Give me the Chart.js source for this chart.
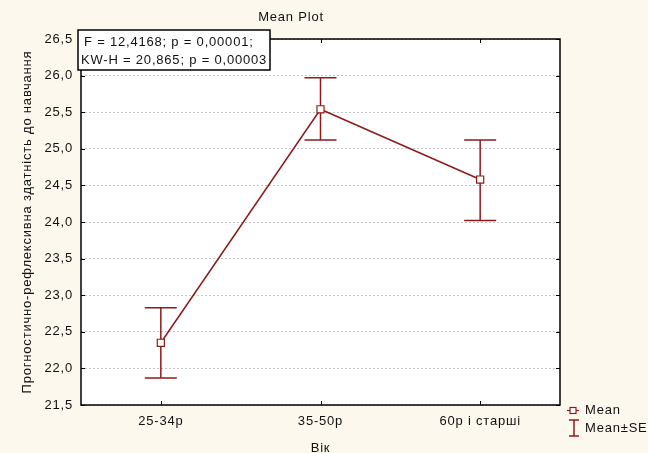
<!DOCTYPE html>
<html><head><meta charset="utf-8">
<script src="https://cdn.jsdelivr.net/npm/chart.js@4/dist/chart.umd.min.js"></script>
<style>html,body{margin:0;padding:0;background:#fdf8ee;}#wrap{width:648px;height:453px;}</style>
</head><body><div id="wrap"><canvas id="c" width="648" height="453"></canvas></div>
<script>
const categories = ["25-34р", "35-50р", "60р і старші"];
const meanValues = [22.35, 25.54, 24.58];
const seUpper = [22.83, 25.97, 25.12];
const seLower = [21.87, 25.12, 24.02];
const yTicks = [21.5, 22.0, 22.5, 23.0, 23.5, 24.0, 24.5, 25.0, 25.5, 26.0, 26.5];
const statLines = ["F = 12,4168; p = 0,00001;", "KW-H = 20,865; p = 0,00003"];
const RED = "#8e1b1b";
const FONT = "'Liberation Sans', Arial, sans-serif";
const FS = 13;
const LS = '0.8px';

const custom = {
  id: 'custom',
  beforeDraw(chart) {
    const {ctx, chartArea: a} = chart;
    ctx.letterSpacing = LS;
    ctx.save();
    ctx.fillStyle = '#fdf8ee';
    ctx.fillRect(0, 0, chart.width, chart.height);
    ctx.fillStyle = '#ffffff';
    ctx.fillRect(a.left, a.top, a.right - a.left, a.bottom - a.top);
    ctx.restore();
  },
  beforeDatasetsDraw(chart) {
    const {ctx} = chart;
    const xs = chart.scales.x, ys = chart.scales.y;
    ctx.save();
    ctx.strokeStyle = RED; ctx.lineWidth = 1.5;
    categories.forEach((c, i) => {
      const x = xs.getPixelForValue(i);
      const yu = ys.getPixelForValue(seUpper[i]);
      const yl = ys.getPixelForValue(seLower[i]);
      ctx.beginPath();
      ctx.moveTo(x, yu); ctx.lineTo(x, yl);
      ctx.moveTo(x - 16, yu); ctx.lineTo(x + 16, yu);
      ctx.moveTo(x - 16, yl); ctx.lineTo(x + 16, yl);
      ctx.stroke();
    });
    ctx.restore();
  },
  afterDraw(chart) {
    const {ctx, chartArea: a} = chart;
    const xs = chart.scales.x, ys = chart.scales.y;
    ctx.save();
    ctx.letterSpacing = LS;
    ctx.strokeStyle = '#000'; ctx.lineWidth = 1.5;
    ctx.strokeRect(a.left, a.top, a.right - a.left, a.bottom - a.top);
    ctx.lineWidth = 1;
    ctx.beginPath();
    yTicks.forEach(v => {
      const y = Math.round(ys.getPixelForValue(v)) + 0.5;
      ctx.moveTo(a.left, y); ctx.lineTo(a.left + 4, y);
      ctx.moveTo(a.right, y); ctx.lineTo(a.right - 4, y);
    });
    categories.forEach((c, i) => {
      const x = Math.round(xs.getPixelForValue(i)) + 0.5;
      ctx.moveTo(x, a.bottom); ctx.lineTo(x, a.bottom - 4);
      ctx.moveTo(x, a.top); ctx.lineTo(x, a.top + 4);
    });
    ctx.stroke();
    ctx.fillStyle = '#111';
    ctx.font = FS + 'px ' + FONT;
    ctx.textAlign = 'center'; ctx.textBaseline = 'middle';
    ctx.fillText('Mean Plot', 291, 17);
    ctx.fillStyle = '#fff';
    ctx.fillRect(78, 30, 192, 40);
    ctx.strokeStyle = '#000'; ctx.lineWidth = 1.5;
    ctx.strokeRect(78, 30, 192, 40);
    ctx.fillStyle = '#111';
    ctx.textAlign = 'left';
    ctx.fillText(statLines[0], 84, 42);
    ctx.fillText(statLines[1], 81, 60);
    ctx.strokeStyle = RED; ctx.lineWidth = 1.2;
    ctx.beginPath(); ctx.moveTo(567, 410.5); ctx.lineTo(579, 410.5); ctx.stroke();
    ctx.fillStyle = '#fff';
    ctx.fillRect(570, 407.5, 6, 6); ctx.strokeRect(570, 407.5, 6, 6);
    ctx.lineWidth = 1.5;
    ctx.beginPath();
    ctx.moveTo(574, 420); ctx.lineTo(574, 436);
    ctx.moveTo(569, 420); ctx.lineTo(579, 420);
    ctx.moveTo(569, 436); ctx.lineTo(579, 436);
    ctx.stroke();
    ctx.fillStyle = '#111';
    ctx.fillText('Mean', 585, 410);
    ctx.fillText('Mean±SE', 585, 428);
    ctx.restore();
  }
};

new Chart(document.getElementById('c'), {
  type: 'line',
  data: {
    labels: categories,
    datasets: [{
      label: 'Mean',
      data: meanValues,
      borderColor: RED,
      borderWidth: 1.5,
      pointStyle: 'rect',
      pointRadius: 5,
      pointBackgroundColor: '#fff',
      pointBorderColor: RED,
      pointBorderWidth: 1.2,
      tension: 0
    }]
  },
  options: {
    responsive: false,
    animation: false,
    devicePixelRatio: 1,
    layout: {padding: {left: 0, right: 88, top: 39, bottom: 0}},
    plugins: {legend: {display: false}, title: {display: false}, tooltip: {enabled: false}},
    scales: {
      x: {
        type: 'category',
        offset: true,
        grid: {display: false, drawTicks: false},
        border: {display: false},
        ticks: {color: '#111', font: {family: FONT, size: FS}, padding: 9, maxRotation: 0, autoSkip: false},
        title: {display: true, text: 'Вік', color: '#111', font: {family: FONT, size: FS}, padding: {top: 0, bottom: -3}},
        afterFit(s) { s.height = 48; }
      },
      y: {
        min: 21.5, max: 26.5,
        afterBuildTicks(s) { s.ticks = yTicks.map(v => ({value: v})); },
        grid: {color: '#c4c4c4', lineWidth: 1, drawTicks: false},
        border: {display: false, dash: [2, 2]},
        ticks: {color: '#111', font: {family: FONT, size: FS}, padding: 8,
          callback: v => Number(v).toFixed(1).replace('.', ',')},
        title: {display: true, text: 'Прогностично-рефлексивна здатність до навчання', color: '#111',
          font: {family: FONT, size: FS}, padding: {top: 20, bottom: 0}},
        afterFit(s) { s.width = 81; }
      }
    }
  },
  plugins: [custom]
});
</script></body></html>
